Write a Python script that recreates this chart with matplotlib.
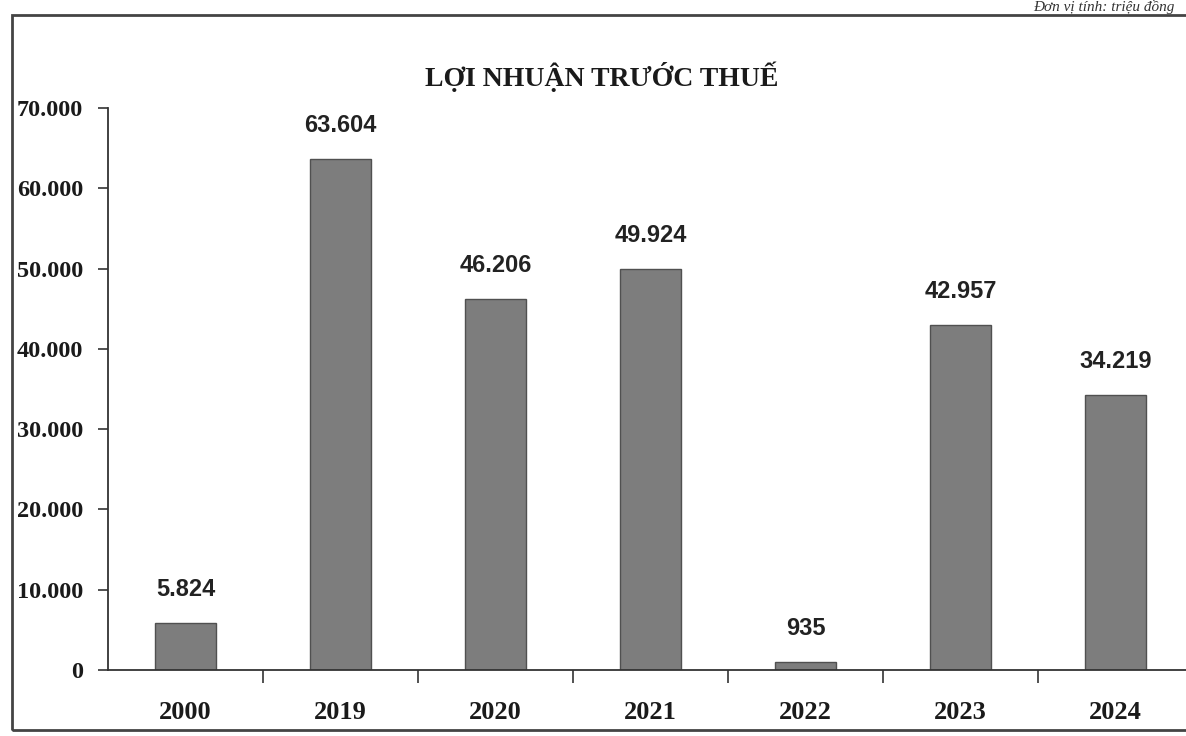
import matplotlib
matplotlib.use("Agg")
import matplotlib.pyplot as plt
from matplotlib.patches import Rectangle
from matplotlib.ticker import FuncFormatter

years = ["2000", "2019", "2020", "2021", "2022", "2023", "2024"]
profit = [5824, 63604, 46206, 49924, 935, 42957, 34219]
value_labels = ["5.824", "63.604", "46.206", "49.924", "935", "42.957", "34.219"]
y_ticks = [0, 10000, 20000, 30000, 40000, 50000, 60000, 70000]
title = "LỢI NHUẬN TRƯỚC THUẾ"
unit_note = "Đơn vị tính: triệu đồng"

W, H = 1186, 736
fig = plt.figure(figsize=(W / 100, H / 100), dpi=100)
fig.patch.set_facecolor("white")

serif = ["Liberation Serif", "DejaVu Serif"]
sans = ["Liberation Sans", "DejaVu Sans"]

# outer frame of the scanned chart
fig.add_artist(Rectangle((12 / W, 1 - 730 / H), (1200 - 12) / W, (730 - 15) / H,
                         transform=fig.transFigure, fill=False,
                         edgecolor="#444444", linewidth=2.0))

# unit note at top right
fig.text(1175 / W, 1 - 11 / H, unit_note, ha="right", va="baseline",
         fontsize=11, style="italic", family=serif, color="#333333")

ax = fig.add_axes([108 / W, 1 - 670 / H, (1193 - 108) / W, (670 - 108) / H])
x = list(range(len(years)))
ax.bar(x, profit, width=0.39, color="#7d7d7d", edgecolor="#505050", linewidth=1.0)

for xi, v, lab in zip(x, profit, value_labels):
    ax.annotate(lab, (xi, v), xytext=(0, 16), textcoords="offset points",
                ha="center", va="bottom", fontsize=17, fontweight="bold",
                family=sans, color="#222222")

ax.set_xlim(-0.5, len(years) - 0.5)
ax.set_ylim(0, 70000)
ax.set_yticks(y_ticks)
ax.yaxis.set_major_formatter(FuncFormatter(lambda v, p: "0" if v == 0 else f"{int(v):,}".replace(",", ".")))
ax.set_xticks(x)
ax.set_xticklabels(years)
ax.set_xticks([i + 0.5 for i in x[:-1]], minor=True)
ax.tick_params(axis="x", which="major", length=0, pad=22)
ax.tick_params(axis="x", which="minor", length=9, width=1.2, direction="out", color="#333333")
ax.tick_params(axis="y", length=7, width=1.2, direction="out", color="#333333", pad=11)

for lab in ax.get_xticklabels():
    lab.set_family(serif)
    lab.set_fontweight("bold")
    lab.set_fontsize(19)
    lab.set_color("#1a1a1a")
for lab in ax.get_yticklabels():
    lab.set_family(serif)
    lab.set_fontweight("bold")
    lab.set_fontsize(17.5)
    lab.set_color("#1a1a1a")

for s in ["top", "right"]:
    ax.spines[s].set_visible(False)
ax.spines["left"].set_color("#333333")
ax.spines["left"].set_linewidth(1.3)
ax.spines["bottom"].set_color("#333333")
ax.spines["bottom"].set_linewidth(1.3)

fig.text(602 / W, 1 - 86 / H, title, ha="center", va="baseline",
         fontsize=20, fontweight="bold", family=serif, color="#1a1a1a")

fig.savefig("out.png", dpi=100, facecolor="white")
